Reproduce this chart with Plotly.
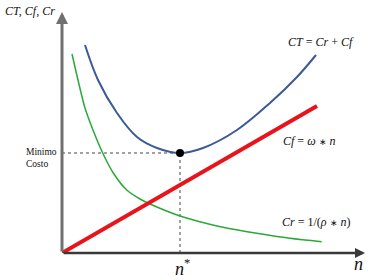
import plotly.graph_objects as go

# Data (arbitrary units)
cr_n = [1.0, 1.6, 2.3, 3.1, 4.07, 5.13, 6.47, 7.8, 8.8, 11.8, 13.8, 16.1, 19.47, 22.8, 25.97]
cr_val = [19.9, 17.3, 14.5, 12.3, 10.0, 8.0, 6.3, 5.4, 4.9, 3.7, 3.13, 2.57, 1.97, 1.47, 1.13]

ct_n = [2.3, 3.6, 5.5, 7.5, 9.5, 11.8, 14.1, 17.5, 20.8, 23.5, 25.4]
ct_val = [20.8, 17.3, 14.0, 11.6, 10.5, 10.0, 10.5, 12.3, 15.0, 17.6, 19.8]

cf_n = [0.0, 25.5]
cf_val = [0.0, 14.7]

n_star = 11.8
c_min = 10.0

x_max = 30.8
y_max = 24.3

serif = "Liberation Serif"

fig = go.Figure()
fig.add_trace(go.Scatter(x=cr_n, y=cr_val, mode="lines", line=dict(color="#2BA83A", width=1.5, shape="spline", smoothing=0.8), hoverinfo="skip"))
fig.add_trace(go.Scatter(x=cf_n, y=cf_val, mode="lines", line=dict(color="#E8141C", width=4), hoverinfo="skip"))
fig.add_trace(go.Scatter(x=ct_n, y=ct_val, mode="lines", line=dict(color="#3C5A96", width=2, shape="spline"), hoverinfo="skip"))
fig.add_trace(go.Scatter(x=[n_star], y=[c_min], mode="markers", marker=dict(color="black", size=8, symbol="circle"), hoverinfo="skip"))

# dotted guide lines
fig.add_shape(type="line", x0=0, y0=c_min, x1=n_star, y1=c_min, line=dict(color="#444", width=1, dash="dot"), layer="below")
fig.add_shape(type="line", x0=n_star, y0=0, x1=n_star, y1=c_min, line=dict(color="#444", width=1, dash="dot"), layer="below")

# axes as arrows
fig.add_annotation(x=0, y=24.1, ax=0, ay=0, xref="x", yref="y", axref="x", ayref="y",
                   showarrow=True, arrowhead=2, arrowsize=0.8, arrowwidth=3, arrowcolor="#707070", text="")
fig.add_annotation(x=30.3, y=0, ax=0, ay=0, xref="x", yref="y", axref="x", ayref="y",
                   showarrow=True, arrowhead=2, arrowsize=0.8, arrowwidth=2.5, arrowcolor="#3a3a3a", text="")

def label(x, y, text, size, xanchor="left", align="left"):
    fig.add_annotation(x=x / x_max, y=y / y_max, xref="paper", yref="paper", text=text, showarrow=False,
                       xanchor=xanchor, yanchor="middle", align=align,
                       font=dict(family=serif, size=size, color="#111"))

star = '<span style="font-size:9px">∗</span>'
label(-3.2, 24.2, "<i>CT, Cf, Cr</i>", 12, xanchor="center")
label(-3.8, 9.5, "Minimo<br>Costo", 9.5)
label(22.4, 21.1, "<i>CT</i> = <i>Cr</i> + <i>Cf</i>", 12)
label(21.9, 11.2, "<i>Cf</i> = <i>ω</i> " + star + " <i>n</i>", 12)
label(21.8, 3.1, "<i>Cr</i> = 1/(<i>ρ</i> " + star + " <i>n</i>)", 12)
label(12.0, -1.4, "<i>n</i><sup>*</sup>", 18, xanchor="center")
label(29.7, -1.1, "<i>n</i>", 18, xanchor="center")

fig.update_layout(
    width=390, height=280,
    margin=dict(l=62, r=20, t=10, b=27),
    paper_bgcolor="white", plot_bgcolor="white",
    showlegend=False,
    xaxis=dict(range=[0, x_max], visible=False),
    yaxis=dict(range=[0, y_max], visible=False),
)
fig.write_html("out.html")
